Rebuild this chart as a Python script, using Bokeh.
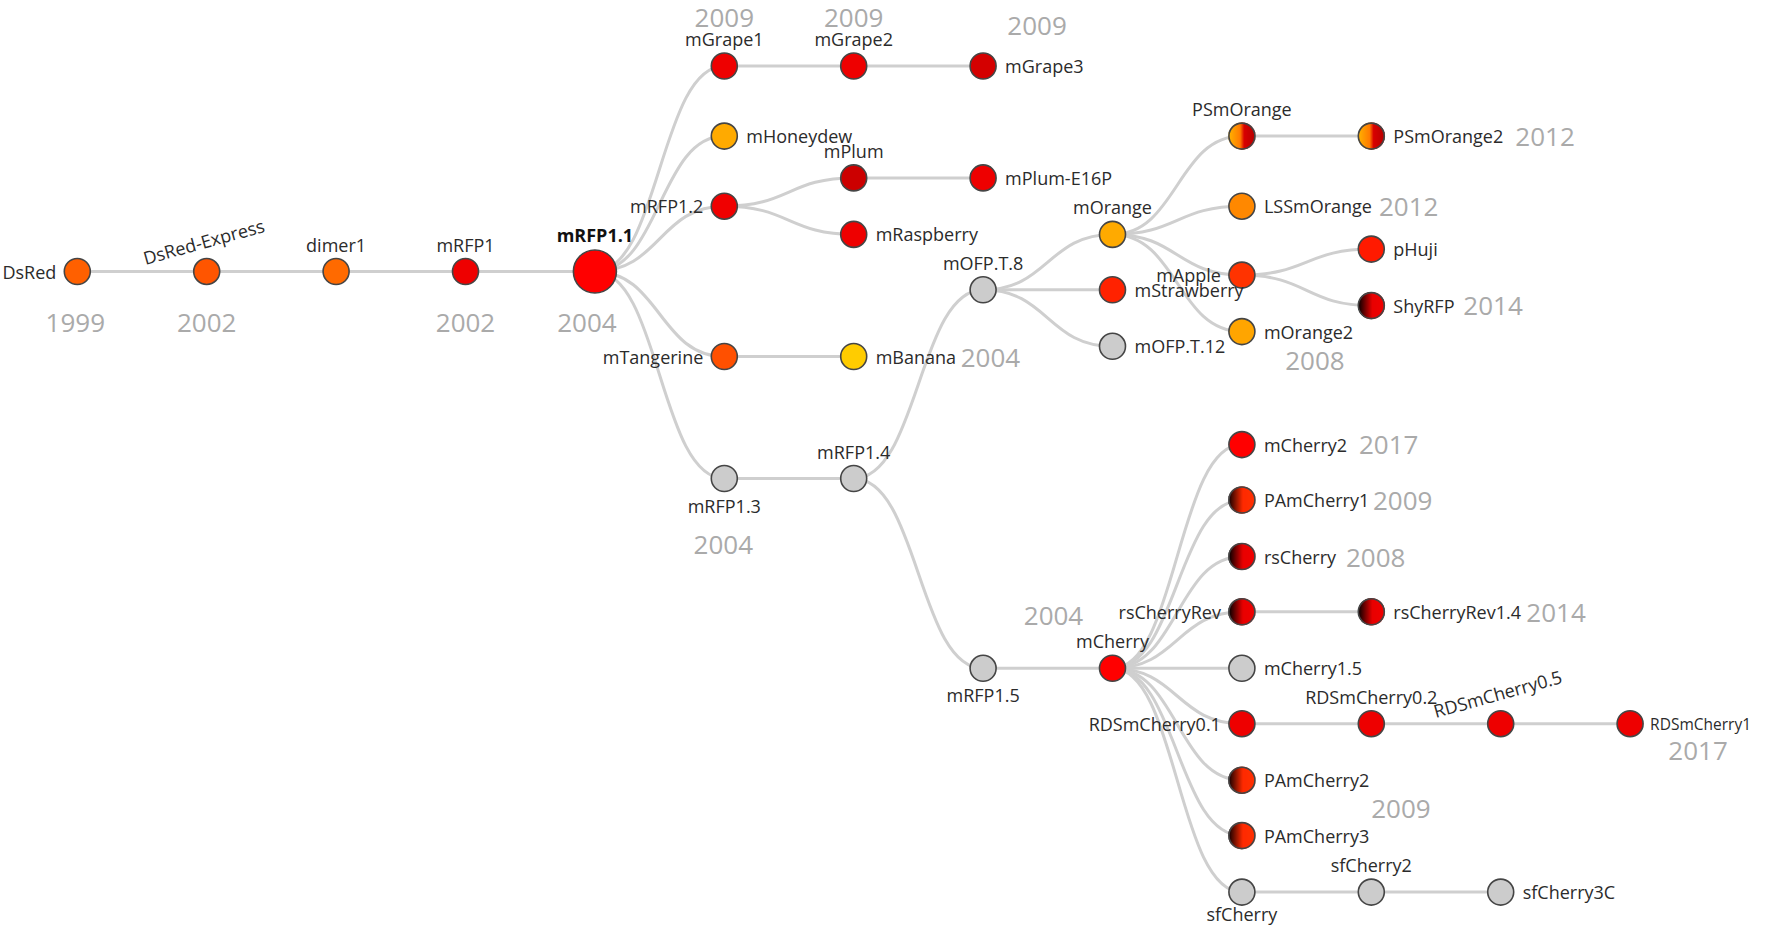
import numpy as np
from bokeh.plotting import figure
from bokeh.models import Range1d, ColumnDataSource
from bokeh.core.properties import value
from bokeh.embed import file_html
from bokeh.resources import INLINE

# tree of red fluorescent proteins: name, parent, depth level, row position
names = ["DsRed", "DsRed-Express", "dimer1", "mRFP1", "mRFP1.1",
         "mGrape1", "mGrape2", "mGrape3", "mHoneydew", "mRFP1.2", "mPlum", "mPlum-E16P",
         "mRaspberry", "mTangerine", "mBanana", "mRFP1.3", "mRFP1.4", "mOFP.T.8",
         "mOrange", "mStrawberry", "mOFP.T.12", "PSmOrange", "LSSmOrange", "mApple",
         "mOrange2", "PSmOrange2", "pHuji", "ShyRFP", "mRFP1.5", "mCherry",
         "mCherry2", "PAmCherry1", "rsCherry", "rsCherryRev", "rsCherryRev1.4",
         "mCherry1.5", "RDSmCherry0.1", "RDSmCherry0.2", "RDSmCherry0.5", "RDSmCherry1",
         "PAmCherry2", "PAmCherry3", "sfCherry", "sfCherry2", "sfCherry3C"]
parents = [None, "DsRed", "DsRed-Express", "dimer1", "mRFP1",
           "mRFP1.1", "mGrape1", "mGrape2", "mRFP1.1", "mRFP1.1", "mRFP1.2", "mPlum",
           "mRFP1.2", "mRFP1.1", "mTangerine", "mRFP1.1", "mRFP1.3", "mRFP1.4",
           "mOFP.T.8", "mOFP.T.8", "mOFP.T.8", "mOrange", "mOrange", "mOrange",
           "mOrange", "PSmOrange", "mApple", "mApple", "mRFP1.4", "mRFP1.5",
           "mCherry", "mCherry", "mCherry", "mCherry", "rsCherryRev",
           "mCherry", "mCherry", "RDSmCherry0.1", "RDSmCherry0.2", "RDSmCherry0.5",
           "mCherry", "mCherry", "mCherry", "sfCherry", "sfCherry2"]
depth = [0, 1, 2, 3, 4,
         5, 6, 7, 5, 5, 6, 7,
         6, 5, 6, 5, 6, 7,
         8, 8, 8, 9, 9, 9,
         9, 10, 10, 10, 7, 8,
         9, 9, 9, 9, 10,
         9, 9, 10, 11, 12,
         9, 9, 9, 10, 11]
row = [271, 271, 271, 271, 271,
       65.5, 65.5, 65.5, 135.6, 205.7, 177.4, 177.4,
       233.9, 356, 356, 478, 478, 289.3,
       233.9, 289.3, 345.8, 135.6, 205.7, 274.6,
       331.1, 135.6, 248.6, 305.1, 667.8, 667.8,
       444.1, 499.5, 556, 611.3, 611.3,
       667.8, 723.2, 723.2, 723.2, 723.2,
       779.7, 835.1, 891.6, 891.6, 891.6]
fills = ["#FF6000", "#FF5500", "#FF6A00", "#EE0000", "#FF0000",
         "#EE0000", "#EE0000", "#D40000", "#FFAA00", "#F00000", "#CC0000", "#EE0000",
         "#EE0000", "#FF5000", "#FFCC00", "#CCCCCC", "#CCCCCC", "#CCCCCC",
         "#FFAA00", "#FF2200", "#CCCCCC", "ps", "#FF8800", "#FF3300",
         "#FFA500", "ps", "#FF1A00", "dark", "#CCCCCC", "#FF0000",
         "#FF0000", "pa", "dark", "dark", "dark",
         "#CCCCCC", "#EE0000", "#EE0000", "#EE0000", "#EE0000",
         "pa", "pa", "#CCCCCC", "#CCCCCC", "#CCCCCC"]
label_side = ["left", "tilt", "above", "above", "bold",
              "above", "above", "right", "right", "left", "above", "right",
              "right", "left", "right", "below", "above", "above",
              "above", "right", "right", "above", "right", "left",
              "right", "right", "right", "right", "below", "above",
              "right", "right", "right", "left", "right",
              "right", "left", "above", "tilt", "right",
              "right", "right", "below", "above", "right"]

# publication years: text, node, offset from node (px)
years = ["1999", "2002", "2002", "2004", "2009", "2009", "2009", "2004", "2012",
         "2012", "2014", "2008", "2004", "2017", "2009", "2008", "2004", "2014",
         "2017", "2009"]
year_node = ["DsRed", "DsRed-Express", "mRFP1", "mRFP1.1", "mGrape1", "mGrape2",
             "mGrape3", "mBanana", "PSmOrange2", "LSSmOrange", "ShyRFP", "mOrange2",
             "mRFP1.3", "mCherry2", "PAmCherry1", "rsCherry", "mCherry",
             "rsCherryRev1.4", "RDSmCherry1", "PAmCherry2"]
year_dx = [-2, 0, 0, -8, 0, 0, 54, 107, 144, 137, 92, 73, -1, 117, 131, 104, -59, 155, 68, 159]
year_dy = [51, 51, 51, 51, -48, -48, -40, 1, 1, 1, 0, 29, 66, 0, 1, 1, -52, 1, 27, 29]
year_align = ["center", "center", "center", "center", "center", "center", "center",
              "left", "left", "left", "left", "center", "center", "left", "left",
              "left", "center", "left", "center", "center"]

# two-colour photoswitchable / photoconvertible fills
gradients = {
    "ps": [(0.0, "#FFB400"), (0.45, "#FF7A00"), (0.6, "#D80000"), (1.0, "#B80000")],
    "dark": [(0.0, "#000000"), (0.55, "#E80000"), (1.0, "#F00000")],
    "pa": [(0.0, "#120000"), (0.55, "#FF2A00"), (1.0, "#FF3000")],
}

W, H = 1756, 925
X0, STEP = 76.8, 129.4
R = 13

xs = [X0 + STEP * d for d in depth]
pos = {n: (x, y) for n, x, y in zip(names, xs, row)}

p = figure(width=W, height=H, x_range=Range1d(0, W), y_range=Range1d(H, 0),
           x_axis_type=None, y_axis_type=None, output_backend="svg",
           toolbar_location=None, min_border=0)
p.grid.visible = False
p.outline_line_color = None

# links (horizontal tree links)
ex0, ey0, ex1, ey1, ecx = [], [], [], [], []
for n, par in zip(names, parents):
    if par is None:
        continue
    (a, b), (c, d) = pos[par], pos[n]
    ex0.append(a); ey0.append(b); ex1.append(c); ey1.append(d); ecx.append((a + c) / 2)
p.bezier(x0=ex0, y0=ey0, x1=ex1, y1=ey1, cx0=ecx, cy0=ey0, cx1=ecx, cy1=ey1,
         line_color="#CFCFCF", line_width=3)


def mix(stops, t):
    for (t0, c0), (t1, c1) in zip(stops[:-1], stops[1:]):
        if t <= t1:
            f = (t - t0) / (t1 - t0)
            a = np.array([int(c0[i:i + 2], 16) for i in (1, 3, 5)])
            b = np.array([int(c1[i:i + 2], 16) for i in (1, 3, 5)])
            r, g, bl = (a + (b - a) * f).round().astype(int)
            return "#%02X%02X%02X" % (r, g, bl)
    return stops[-1][1]


# gradient nodes as thin vertical strips
sx, sy, sw, sh, sc = [], [], [], [], []
n_strip = 26
for n, f in zip(names, fills):
    if f not in gradients:
        continue
    cx, cy = pos[n]
    w = 2 * R / n_strip
    for i in range(n_strip):
        dx = -R + (i + 0.5) * w
        sx.append(cx + dx); sy.append(cy)
        sw.append(w + 0.6); sh.append(2 * np.sqrt(max(R * R - dx * dx, 0)) + 1)
        sc.append(mix(gradients[f], (i + 0.5) / n_strip))
p.rect(x=sx, y=sy, width=sw, height=sh, fill_color=sc, line_color=None)

solid = ColumnDataSource(dict(
    x=xs, y=row,
    fill=[f if f.startswith("#") else None for f in fills],
    size=[43 if n == "mRFP1.1" else 26 for n in names]))
p.scatter("x", "y", size="size", source=solid, fill_color="fill",
          line_color="#454545", line_width=1.6)

# node labels
lx, ly, lt, la, ls = [], [], [], [], []
for n, side in zip(names, label_side):
    x, y = pos[n]
    if side == "left":
        lx.append(x - 21); ly.append(y); la.append("right")
    elif side == "right":
        lx.append(x + 22); ly.append(y); la.append("left")
    elif side == "above":
        lx.append(x); ly.append(y - 27); la.append("center")
    elif side == "below":
        lx.append(x); ly.append(min(y + 27, H - 12)); la.append("center")
    else:
        continue
    lt.append(n)
    # the last column's label has to stay inside the page
    if la[-1] == "left" and lx[-1] + 10.5 * len(n) > W:
        lx[-1] -= 2
        ls.append("15.5px")
    else:
        ls.append("18px")
p.text(x=lx, y=ly, text=lt, text_align=la, text_baseline="middle",
       text_font=value("Open Sans"), text_font_size=ls, text_color="#2B2B2B")

bold = [n for n, s in zip(names, label_side) if s == "bold"]
p.text(x=[pos[n][0] for n in bold], y=[pos[n][1] - 37 for n in bold], text=bold,
       text_align="center", text_baseline="middle", text_font=value("Open Sans"),
       text_font_size="18px", text_font_style="bold", text_color="#111111")

tilt = [n for n, s in zip(names, label_side) if s == "tilt"]
p.text(x=[pos[n][0] - 3 for n in tilt], y=[pos[n][1] - 30 for n in tilt], text=tilt,
       angle=0.27, text_align="center", text_baseline="middle",
       text_font=value("Open Sans"), text_font_size="18px", text_color="#2B2B2B")

# years
p.text(x=[pos[n][0] + dx for n, dx in zip(year_node, year_dx)],
       y=[pos[n][1] + dy for n, dy in zip(year_node, year_dy)],
       text=years, text_align=year_align, text_baseline="middle",
       text_font=value("Open Sans"), text_font_size="26px", text_color="#AAAAAA")

open("out.html", "w").write(file_html(p, INLINE))
